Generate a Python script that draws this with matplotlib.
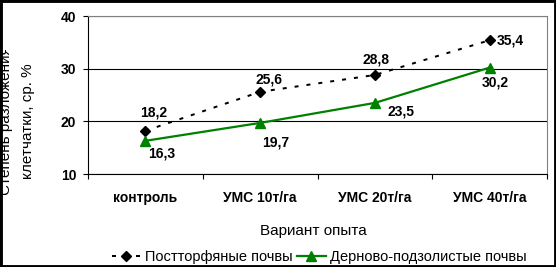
import matplotlib
matplotlib.use("Agg")
import matplotlib.pyplot as plt
from matplotlib.patches import Rectangle
from matplotlib.transforms import Bbox, TransformedBbox

plt.rcParams['font.family'] = ['Liberation Sans', 'DejaVu Sans']

categories = ["контроль", "УМС 10т/га", "УМС 20т/га", "УМС 40т/га"]
peat = [18.2, 25.6, 28.8, 35.4]
sod = [16.3, 19.7, 23.5, 30.2]
peat_labels = ["18,2", "25,6", "28,8", "35,4"]
sod_labels = ["16,3", "19,7", "23,5", "30,2"]
yticks = [10, 20, 30, 40]

W, H = 556, 267
fig = plt.figure(figsize=(W/100, H/100), dpi=100)
ax = fig.add_axes([88/W, 1-174/H, (547-88)/W, (174-16)/H])

x = list(range(len(categories)))
ax.plot(x, peat, color='black', lw=1.44, linestyle=(0, (2, 4)), marker='D', ms=5.5,
        markerfacecolor='black', markeredgecolor='black', label='Постторфяные почвы', zorder=3)
ax.plot(x, sod, color='#008000', lw=1.6, marker='^', ms=7,
        markerfacecolor='#008000', markeredgecolor='#008000', label='Дерново-подзолистые почвы', zorder=3)

peat_off = [(8, 18), (9, 12), (1, 15), (21, 0)]
sod_off = [(16, -13), (16, -20), (26, -9), (6, -15)]
for xi, v, t, (dx, dy) in zip(x, peat, peat_labels, peat_off):
    ax.annotate(t, (xi, v), xytext=(dx*0.72, dy*0.72), textcoords='offset points',
                ha='center', va='center', fontsize=10, fontweight='bold')
for xi, v, t, (dx, dy) in zip(x, sod, sod_labels, sod_off):
    ax.annotate(t, (xi, v), xytext=(dx*0.72, dy*0.72), textcoords='offset points',
                ha='center', va='center', fontsize=10, fontweight='bold')

ax.set_ylim(10, 40)
ax.set_yticks(yticks)
ax.set_yticklabels([str(v) for v in yticks], fontsize=10, fontweight='bold')
ax.tick_params(axis='y', direction='out', length=3.5, width=0.8, pad=5)
ax.yaxis.grid(True, color='black', lw=0.8)

ax.set_xlim(-0.5, len(categories) - 0.5)
ax.set_xticks([i - 0.5 for i in range(len(categories) + 1)])
ax.set_xticklabels([])
ax.set_xticks(x, minor=True)
ax.set_xticklabels(categories, minor=True, fontsize=10, fontweight='bold')
ax.tick_params(axis='x', which='major', direction='out', length=3.5, width=0.8)
ax.tick_params(axis='x', which='minor', length=0, pad=12)

for s in ['left', 'bottom']:
    ax.spines[s].set_color('black')
    ax.spines[s].set_linewidth(0.8)
for s in ['top', 'right']:
    ax.spines[s].set_color('#808080')
    ax.spines[s].set_linewidth(0.8)

fig.text(313/W, 1-231/H, "Вариант опыта", ha='center', va='center', fontsize=11)
fig.text(28/W, 1-121/H, "клетчатки, ср. %", ha='center', va='center', fontsize=11, rotation=90)
t1 = fig.text(6/W, 1-121/H, "Степень разложения", ha='center', va='center', fontsize=11, rotation=90)
t1.set_clip_box(TransformedBbox(Bbox([[0, 1-195/H], [40/W, 1-50/H]]), fig.transFigure))
t1.set_clip_on(True)

leg = fig.legend(loc='center', bbox_to_anchor=(319/W, 1-257/H), ncol=2, frameon=False,
                 fontsize=10.5, handlelength=2.0, handletextpad=0.25, columnspacing=0.3,
                 borderpad=0, borderaxespad=0)

fig.patches.append(Rectangle((0, 0), 1, 1, transform=fig.transFigure, fill=False,
                             edgecolor='black', lw=3.5, zorder=10))

fig.savefig("out.png", dpi=100)
